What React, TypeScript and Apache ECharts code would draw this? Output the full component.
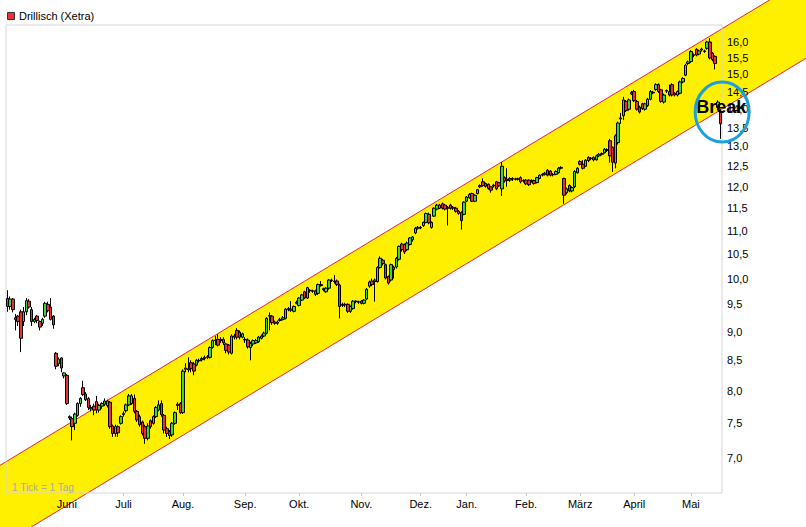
import React, { useEffect, useRef } from "react";
import * as echarts from "echarts";

const TITLE = "Drillisch (Xetra)";
const NOTE = "1 Tick = 1 Tag";
const BREAK_LABEL = "Break";
const MONTHS = ["Jan.", "Feb.", "März", "April", "Mai", "Juni", "Juli", "Aug.", "Sep.", "Okt.", "Nov.", "Dez."];
const Y_TICKS = [7.0, 7.5, 8.0, 8.5, 9.0, 9.5, 10.0, 10.5, 11.0, 11.5, 12.0, 12.5, 13.0, 13.5, 14.0, 14.5, 15.0, 15.5, 16.0];
const Y_MIN = 6.53;
const Y_MAX = 16.55;
const START_DATE = "2012-05-02";
const HOLIDAYS = ["2012-12-24", "2012-12-25", "2012-12-26", "2012-12-31", "2013-01-01", "2013-03-29", "2013-04-01", "2013-05-01"];
// trend channel: price at first and at last trading day
const BAND_UPPER = [6.96, 16.4];
const BAND_LOWER = [5.93, 13.98];
const BREAK_PRICE = 13.92;

// [open, close, low, high]
const OHLC: number[][] = [
  [9.61, 9.46, 9.36, 9.77], [9.46, 9.6, 9.4, 9.65], [9.6, 9.4, 9.35, 9.62], [9.25, 9.22, 9.02, 9.32],
  [9.28, 9.18, 9.1, 9.3], [9.36, 8.88, 8.64, 9.4], [9.18, 9.36, 9.1, 9.45], [9.36, 9.57, 9.3, 9.62],
  [9.56, 9.45, 9.42, 9.6], [9.4, 9.18, 9.1, 9.45], [9.18, 9.22, 9.15, 9.25], [9.28, 9.2, 9.15, 9.3],
  [9.18, 9.08, 9.02, 9.2], [9.15, 9.22, 9.1, 9.25], [9.28, 9.52, 9.25, 9.55], [9.5, 9.38, 9.35, 9.55],
  [9.45, 9.22, 9.2, 9.62], [9.28, 9.12, 9.05, 9.3], [8.62, 8.4, 8.35, 8.64], [8.44, 8.52, 8.4, 8.55],
  [8.54, 8.37, 8.3, 8.55], [8.24, 8.29, 8.2, 8.3], [8.25, 7.8, 7.78, 8.27], [7.6, 7.58, 7.55, 7.62],
  [7.57, 7.45, 7.25, 7.6], [7.5, 7.64, 7.4, 7.66], [7.62, 7.8, 7.6, 7.82], [7.8, 7.88, 7.75, 7.9],
  [8.05, 7.94, 7.92, 8.16], [7.95, 7.86, 7.84, 7.98], [7.88, 7.74, 7.7, 7.9], [7.74, 7.72, 7.68, 7.78],
  [7.76, 7.7, 7.62, 7.8], [7.83, 7.7, 7.65, 7.92], [7.7, 7.77, 7.66, 7.8], [7.76, 7.8, 7.72, 7.82],
  [7.79, 7.84, 7.76, 7.88], [7.77, 7.84, 7.74, 7.86], [7.82, 7.45, 7.42, 7.84], [7.46, 7.35, 7.3, 7.48],
  [7.35, 7.45, 7.3, 7.48], [7.45, 7.36, 7.3, 7.47], [7.5, 7.6, 7.48, 7.62], [7.63, 7.65, 7.6, 7.68],
  [7.69, 7.78, 7.66, 7.8], [7.78, 7.92, 7.76, 7.95], [7.8, 7.92, 7.78, 7.95], [7.88, 7.68, 7.65, 7.94],
  [7.68, 7.55, 7.52, 7.7], [7.6, 7.48, 7.45, 7.63], [7.52, 7.35, 7.32, 7.54], [7.45, 7.28, 7.2, 7.48],
  [7.28, 7.46, 7.25, 7.5], [7.54, 7.45, 7.42, 7.56], [7.5, 7.6, 7.48, 7.62], [7.6, 7.74, 7.58, 7.76],
  [7.7, 7.78, 7.68, 7.85], [7.8, 7.63, 7.6, 7.85], [7.62, 7.4, 7.35, 7.64], [7.42, 7.35, 7.3, 7.45],
  [7.38, 7.32, 7.27, 7.4], [7.33, 7.5, 7.3, 7.52], [7.5, 7.66, 7.48, 7.68], [7.77, 7.79, 7.7, 7.82],
  [7.8, 7.66, 7.64, 7.82], [7.66, 8.32, 7.64, 8.35], [8.35, 8.37, 8.3, 8.45], [8.36, 8.34, 8.3, 8.55],
  [8.46, 8.36, 8.3, 8.5], [8.44, 8.32, 8.25, 8.47], [8.42, 8.5, 8.4, 8.52], [8.5, 8.49, 8.46, 8.53],
  [8.51, 8.53, 8.48, 8.56], [8.53, 8.55, 8.5, 8.58], [8.55, 8.56, 8.52, 8.59], [8.55, 8.72, 8.53, 8.74],
  [8.72, 8.84, 8.7, 8.86], [8.84, 8.85, 8.76, 8.92], [8.86, 8.76, 8.74, 8.95], [8.84, 8.86, 8.8, 8.9],
  [8.86, 8.8, 8.76, 8.9], [8.78, 8.67, 8.62, 8.8], [8.76, 8.64, 8.6, 8.78], [8.62, 8.92, 8.6, 8.95],
  [8.9, 8.92, 8.86, 8.96], [9.02, 8.9, 8.86, 9.06], [8.99, 8.9, 8.86, 9.02], [8.9, 8.96, 8.88, 8.98],
  [8.86, 8.85, 8.8, 8.9], [8.85, 8.73, 8.7, 8.88], [8.72, 8.79, 8.5, 8.82], [8.78, 8.84, 8.74, 8.86],
  [8.8, 8.84, 8.78, 8.87], [8.82, 8.9, 8.8, 8.92], [8.88, 8.92, 8.86, 8.95], [8.92, 8.97, 8.9, 9.0],
  [8.97, 9.24, 8.95, 9.26], [9.28, 9.29, 9.02, 9.35], [9.28, 9.16, 9.12, 9.3], [9.17, 9.15, 9.12, 9.2],
  [9.15, 9.17, 9.12, 9.2], [9.2, 9.22, 9.18, 9.25], [9.22, 9.25, 9.2, 9.28], [9.24, 9.41, 9.22, 9.43],
  [9.42, 9.4, 9.37, 9.45], [9.41, 9.39, 9.36, 9.56], [9.37, 9.46, 9.35, 9.48], [9.52, 9.54, 9.5, 9.57],
  [9.48, 9.62, 9.46, 9.64], [9.58, 9.68, 9.56, 9.7], [9.74, 9.62, 9.6, 9.76], [9.62, 9.82, 9.6, 9.84],
  [9.77, 9.76, 9.72, 9.79], [9.76, 9.75, 9.72, 9.78], [9.76, 9.69, 9.66, 9.78], [9.71, 9.88, 9.68, 9.9],
  [9.88, 9.86, 9.84, 9.95], [9.8, 9.78, 9.75, 9.82], [9.74, 9.81, 9.72, 9.83], [9.81, 9.97, 9.78, 9.99],
  [9.97, 9.96, 9.93, 10.0], [9.95, 9.94, 9.9, 10.07], [9.95, 9.88, 9.85, 9.98], [9.87, 9.46, 9.24, 9.9],
  [9.5, 9.48, 9.45, 9.53], [9.5, 9.49, 9.45, 9.53], [9.5, 9.37, 9.34, 9.52], [9.37, 9.46, 9.34, 9.48],
  [9.42, 9.56, 9.4, 9.58], [9.56, 9.55, 9.52, 9.58], [9.55, 9.54, 9.51, 9.57], [9.56, 9.52, 9.5, 9.58],
  [9.52, 9.58, 9.5, 9.6], [9.6, 9.79, 9.58, 9.81], [9.85, 9.93, 9.82, 9.96], [9.95, 9.88, 9.85, 10.0],
  [9.94, 9.97, 9.55, 10.0], [9.94, 10.22, 9.92, 10.25], [10.22, 10.41, 10.2, 10.45], [10.37, 10.3, 10.26, 10.4],
  [10.28, 10.01, 9.98, 10.3], [10.04, 9.91, 9.88, 10.06], [9.97, 10.28, 9.94, 10.3], [10.23, 10.18, 10.0, 10.26],
  [10.23, 10.41, 10.2, 10.44], [10.39, 10.66, 10.36, 10.68], [10.71, 10.59, 10.55, 10.74], [10.7, 10.54, 10.5, 10.72],
  [10.59, 10.73, 10.56, 10.76], [10.7, 10.84, 10.68, 10.86], [10.8, 10.86, 10.76, 10.88], [10.95, 11.05, 10.92, 11.08],
  [11.05, 11.07, 11.02, 11.1], [11.06, 11.07, 11.03, 11.1], [11.11, 11.18, 11.08, 11.2], [11.18, 11.38, 11.16, 11.4],
  [11.36, 11.17, 11.14, 11.4], [11.07, 11.18, 11.04, 11.2], [11.32, 11.5, 11.3, 11.52], [11.48, 11.57, 11.45, 11.6],
  [11.5, 11.57, 11.48, 11.6], [11.6, 11.5, 11.47, 11.63], [11.57, 11.48, 11.45, 11.6], [11.52, 11.5, 11.11, 11.55],
  [11.57, 11.5, 11.47, 11.6], [11.5, 11.52, 11.46, 11.55], [11.5, 11.43, 11.4, 11.53], [11.43, 11.38, 11.35, 11.46],
  [11.4, 11.22, 11.02, 11.43], [11.36, 11.64, 11.34, 11.66], [11.66, 11.76, 11.64, 11.78], [11.74, 11.82, 11.72, 11.85],
  [11.84, 11.66, 11.64, 11.86], [11.66, 11.8, 11.64, 11.82], [11.84, 11.93, 11.82, 11.95], [12.0, 12.03, 11.97, 12.06],
  [12.12, 12.03, 12.0, 12.2], [12.08, 12.01, 11.98, 12.1], [12.06, 11.96, 11.93, 12.08], [12.0, 11.92, 11.86, 12.02],
  [12.04, 12.02, 11.98, 12.07], [12.12, 11.95, 11.92, 12.14], [12.1, 12.02, 11.99, 12.12], [11.95, 12.5, 11.78, 12.6],
  [12.22, 12.14, 12.1, 12.25], [12.18, 12.15, 12.0, 12.45], [12.2, 12.16, 12.12, 12.23], [12.2, 12.18, 12.14, 12.23],
  [12.19, 12.18, 12.15, 12.22], [12.18, 12.19, 12.15, 12.22], [12.22, 12.12, 12.08, 12.25], [12.15, 12.14, 12.1, 12.18],
  [12.16, 12.07, 12.04, 12.19], [12.16, 12.05, 12.02, 12.18], [12.15, 12.14, 12.1, 12.18], [12.15, 12.08, 12.05, 12.17],
  [12.1, 12.22, 12.08, 12.24], [12.2, 12.28, 12.18, 12.3], [12.28, 12.3, 12.25, 12.33], [12.3, 12.33, 12.27, 12.36],
  [12.4, 12.28, 12.25, 12.43], [12.38, 12.28, 12.25, 12.4], [12.3, 12.29, 12.25, 12.33], [12.3, 12.37, 12.28, 12.4],
  [12.34, 12.45, 12.32, 12.48], [12.45, 12.47, 12.42, 12.5], [12.2, 11.8, 11.6, 12.22], [11.86, 11.95, 11.82, 11.98],
  [12.03, 11.9, 11.87, 12.06], [11.9, 11.98, 11.87, 12.01], [12.0, 12.37, 11.97, 12.4], [12.34, 12.45, 12.32, 12.48],
  [12.62, 12.55, 12.52, 12.65], [12.55, 12.45, 12.42, 12.65], [12.5, 12.65, 12.48, 12.68], [12.72, 12.64, 12.6, 12.75],
  [12.7, 12.69, 12.65, 12.73], [12.72, 12.66, 12.62, 12.75], [12.66, 12.76, 12.64, 12.79], [12.76, 12.8, 12.73, 12.83],
  [12.8, 12.82, 12.77, 12.85], [12.84, 12.93, 12.82, 12.96], [12.92, 12.9, 12.86, 12.95], [13.15, 12.76, 12.59, 13.2],
  [12.98, 12.6, 12.36, 13.0], [12.58, 13.28, 12.45, 13.32], [13.1, 13.62, 13.05, 13.66], [13.73, 13.76, 13.6, 13.9],
  [13.82, 14.26, 13.7, 14.35], [14.22, 13.96, 13.92, 14.26], [14.0, 14.26, 13.96, 14.3], [14.43, 14.47, 14.4, 14.52],
  [14.5, 14.24, 14.2, 14.55], [14.22, 14.0, 13.96, 14.26], [14.06, 13.92, 13.88, 14.1], [14.15, 14.02, 13.98, 14.18],
  [14.0, 14.15, 13.96, 14.18], [14.1, 14.28, 14.06, 14.32], [14.28, 14.5, 14.25, 14.54], [14.48, 14.46, 14.42, 14.52],
  [14.56, 14.7, 14.52, 14.74], [14.7, 14.5, 14.46, 14.74], [14.55, 14.22, 14.18, 14.58], [14.2, 14.4, 14.16, 14.44],
  [14.53, 14.51, 14.46, 14.56], [14.5, 14.4, 14.36, 14.7], [14.7, 14.4, 14.36, 14.74], [14.45, 14.4, 14.36, 14.48],
  [14.4, 14.5, 14.36, 14.53], [14.45, 14.78, 14.42, 14.82], [14.78, 14.88, 14.74, 14.92], [14.98, 15.28, 14.95, 15.32],
  [15.33, 15.38, 15.28, 15.42], [15.39, 15.7, 15.35, 15.74], [15.6, 15.58, 15.52, 15.64], [15.77, 15.59, 15.55, 15.8],
  [15.62, 15.72, 15.58, 15.76], [15.75, 15.78, 15.7, 15.82], [15.72, 15.7, 15.66, 15.76], [15.8, 16.0, 15.76, 16.04],
  [16.0, 15.5, 15.46, 16.12], [15.65, 15.45, 15.4, 15.68], [15.55, 15.33, 15.15, 15.58], [14.05, 14.2, 13.98, 14.25],
  [13.95, 13.6, 13.2, 14.0],
];

const FONT = '"Liberation Sans", Arial, sans-serif';
const UP = "#3cd43c";
const DOWN = "#e83232";
const BAND_FILL = "#fff000";
const BAND_LINE = "#e8203a";

function tradingDays(start: string, n: number, holidays: string[]): string[] {
  const out: string[] = [];
  const d = new Date(start + "T12:00:00Z");
  while (out.length < n) {
    const wd = d.getUTCDay();
    const s = d.toISOString().slice(0, 10);
    if (wd !== 0 && wd !== 6 && holidays.indexOf(s) < 0) out.push(s);
    d.setUTCDate(d.getUTCDate() + 1);
  }
  return out;
}

export default function App() {
  const ref = useRef<HTMLDivElement>(null);
  useEffect(() => {
    const el = ref.current!;
    const chart = echarts.init(el, null, { renderer: "svg" });
    const dates = tradingDays(START_DATE, OHLC.length, HOLIDAYS);
    const isMonthStart = (i: number) => i > 0 && dates[i].slice(5, 7) !== dates[i - 1].slice(5, 7);
    const data = OHLC.map(([o, c, l, h]) => [Math.log(o), Math.log(c), Math.log(l), Math.log(h)]);

    chart.setOption({
      animation: false,
      backgroundColor: "#ffffff",
      grid: {
        left: 6,
        right: 84,
        top: 25,
        bottom: 34,
        show: true,
        borderColor: "#d6d6d6",
        borderWidth: 1,
        backgroundColor: "transparent",
        containLabel: false,
        outerBoundsMode: "none",
      },
      xAxis: {
        type: "category",
        data: dates,
        boundaryGap: true,
        axisLine: { show: false },
        axisTick: {
          show: true,
          alignWithLabel: true,
          interval: (i: number) => isMonthStart(i),
          length: 3,
          lineStyle: { color: "#c8c8c8" },
        },
        axisLabel: {
          interval: (i: number) => isMonthStart(i),
          formatter: (v: string) => MONTHS[parseInt(v.slice(5, 7), 10) - 1],
          color: "#000",
          fontSize: 11,
          fontFamily: FONT,
          margin: 5,
        },
        splitLine: { show: false },
      },
      yAxis: {
        type: "value",
        position: "right",
        min: Math.log(Y_MIN),
        max: Math.log(Y_MAX),
        axisLine: { show: false },
        axisTick: { show: false },
        splitLine: { show: false },
        axisLabel: {
          customValues: Y_TICKS.map((v) => Math.log(v)),
          formatter: (v: number) => Math.exp(v).toFixed(1).replace(".", ","),
          color: "#000",
          fontSize: 11,
          fontFamily: FONT,
          margin: 5,
        },
      },
      series: [
        {
          type: "candlestick",
          data,
          barWidth: 3,
          itemStyle: {
            color: UP,
            color0: DOWN,
            borderColor: "#000",
            borderColor0: "#000",
            borderColorDoji: "#000",
            borderWidth: 1,
          },
          z: 5,
        },
      ],
    });

    const n = OHLC.length;
    const px = (i: number, price: number) =>
      chart.convertToPixel({ xAxisIndex: 0, yAxisIndex: 0 }, [i, Math.log(price)]) as number[];
    const u0 = px(0, BAND_UPPER[0]);
    const u1 = px(n - 1, BAND_UPPER[1]);
    const l0 = px(0, BAND_LOWER[0]);
    const l1 = px(n - 1, BAND_LOWER[1]);
    const W = chart.getWidth();
    const at = (a: number[], b: number[], x: number) => a[1] + ((b[1] - a[1]) * (x - a[0])) / (b[0] - a[0]);
    const brk = px(n - 1, BREAK_PRICE);

    chart.setOption({
      graphic: [
        {
          type: "polygon",
          z: -10,
          silent: true,
          shape: {
            points: [
              [0, at(u0, u1, 0)],
              [W, at(u0, u1, W)],
              [W, at(l0, l1, W)],
              [0, at(l0, l1, 0)],
            ],
          },
          style: { fill: BAND_FILL },
        },
        {
          type: "line",
          z: -9,
          silent: true,
          shape: { x1: 0, y1: at(u0, u1, 0), x2: W, y2: at(u0, u1, W) },
          style: { stroke: BAND_LINE, lineWidth: 1 },
        },
        {
          type: "line",
          z: -9,
          silent: true,
          shape: { x1: 0, y1: at(l0, l1, 0), x2: W, y2: at(l0, l1, W) },
          style: { stroke: BAND_LINE, lineWidth: 1 },
        },
        {
          type: "rect",
          z: 50,
          shape: { x: 7.5, y: 12.5, width: 7, height: 7 },
          style: { fill: "#f03030", stroke: "#333", lineWidth: 1 },
        },
        {
          type: "text",
          z: 50,
          x: 19,
          y: 16,
          style: { text: TITLE, fill: "#000", font: `11px ${FONT}`, textVerticalAlign: "middle" },
        },
        {
          type: "text",
          z: 50,
          x: 12,
          y: 487,
          style: { text: NOTE, fill: "#aaaaaa", font: `10px ${FONT}`, textVerticalAlign: "middle" },
        },
        {
          type: "text",
          z: 60,
          x: brk[0] + 0.5,
          y: brk[1] - 5,
          style: {
            text: BREAK_LABEL,
            fill: "#000",
            font: `bold 18px ${FONT}`,
            textAlign: "center",
            textVerticalAlign: "middle",
          },
        },
        {
          type: "ellipse",
          z: 61,
          silent: true,
          shape: { cx: brk[0] + 1.5, cy: brk[1], rx: 27, ry: 30 },
          style: { fill: "none", stroke: "#1a9fe0", lineWidth: 3 },
        },
      ],
    });

    return () => chart.dispose();
  }, []);
  return (
    <div
      ref={ref}
      style={{ position: "fixed", left: 0, top: 0, width: 806, height: 527, background: "#fff" }}
    />
  );
}
